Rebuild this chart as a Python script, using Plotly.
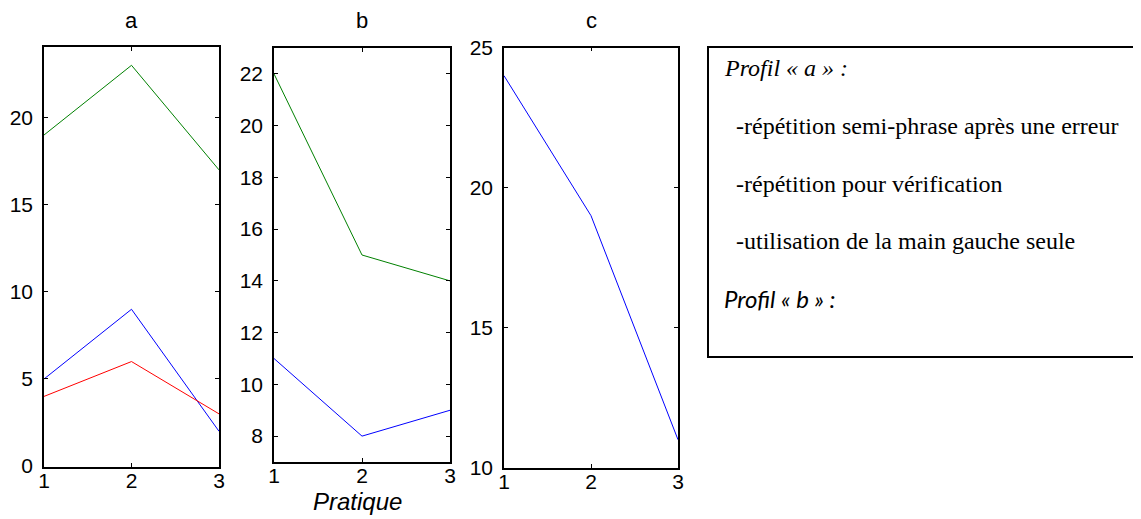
import plotly.graph_objects as go

# page body has an 8px margin: the figure starts at (8, 8) in the window
OFF = 8
W, H = 1141 - OFF, 519 - OFF

x_vals = [1, 2, 3]
a_green = [19, 23, 17]
a_blue = [5, 9, 2]
a_red = [4, 6, 3]
b_green = [22, 15, 14]
b_blue = [11, 8, 9]
c_blue = [24, 19, 11]

a_ticks = [0, 5, 10, 15, 20]
b_ticks = [8, 10, 12, 14, 16, 18, 20, 22]
c_ticks = [10, 15, 20, 25]
x_ticks = [1, 2, 3]

panel_titles = ["a", "b", "c"]
xlabel = "Pratique"
box_lines = [
    "Profil « a » :",
    "-répétition semi-phrase après une erreur",
    "-répétition pour vérification",
    "-utilisation de la main gauche seule",
    "Profil « b » :",
]

GREEN = "#008000"
BLUE = "#0000FF"
RED = "#FF0000"
FONT = "Liberation Sans"


def px(x):
    return (x - OFF) / W


def py(y):
    return 1 - (y - OFF) / H


fig = go.Figure()

fig.add_trace(go.Scatter(x=x_vals, y=a_green, mode="lines", line=dict(color=GREEN, width=1), xaxis="x", yaxis="y"))
fig.add_trace(go.Scatter(x=x_vals, y=a_blue, mode="lines", line=dict(color=BLUE, width=1), xaxis="x", yaxis="y"))
fig.add_trace(go.Scatter(x=x_vals, y=a_red, mode="lines", line=dict(color=RED, width=1), xaxis="x", yaxis="y"))
fig.add_trace(go.Scatter(x=x_vals, y=b_green, mode="lines", line=dict(color=GREEN, width=1), xaxis="x2", yaxis="y2"))
fig.add_trace(go.Scatter(x=x_vals, y=b_blue, mode="lines", line=dict(color=BLUE, width=1), xaxis="x2", yaxis="y2"))
fig.add_trace(go.Scatter(x=x_vals, y=c_blue, mode="lines", line=dict(color=BLUE, width=1), xaxis="x3", yaxis="y3"))

axis_common = dict(
    showline=True, linecolor="black", linewidth=1.5, mirror="allticks",
    ticks="inside", ticklen=4, tickcolor="black", tickwidth=1,
    showgrid=False, zeroline=False, automargin=False,
    tickfont=dict(family=FONT, size=21, color="black"),
)

panels = [
    dict(xd=(44, 219), yd=(47, 467), yr=(-0.05, 24.05), yt=a_ticks),
    dict(xd=(274, 450), yd=(48, 462), yr=(7, 23), yt=b_ticks),
    dict(xd=(504, 678), yd=(47.7, 467.7), yr=(10, 25), yt=c_ticks),
]

layout_axes = {}
for i, p in enumerate(panels):
    sfx = "" if i == 0 else str(i + 1)
    layout_axes["xaxis" + sfx] = dict(
        axis_common,
        domain=[px(p["xd"][0]), px(p["xd"][1])],
        range=[1, 3], tickvals=x_ticks,
        anchor="y" + sfx,
        ticklabelstandoff=-6,
    )
    layout_axes["yaxis" + sfx] = dict(
        axis_common,
        domain=[py(p["yd"][1]), py(p["yd"][0])],
        range=list(p["yr"]), tickvals=p["yt"],
        anchor="x" + sfx,
        ticklabelstandoff=5,
    )

annotations = []
for i, t in enumerate(panel_titles):
    xc = (panels[i]["xd"][0] + panels[i]["xd"][1]) / 2
    annotations.append(dict(
        text=t, x=px(xc), y=py(20), xref="paper", yref="paper",
        xanchor="center", yanchor="middle", showarrow=False,
        font=dict(family=FONT, size=22, color="black"),
    ))

annotations.append(dict(
    text="<i>" + xlabel + "</i>", x=px(357.5), y=py(501), xref="paper", yref="paper",
    xanchor="center", yanchor="middle", showarrow=False,
    font=dict(family=FONT, size=24, color="black"),
))

line_y = [68.5, 126, 183.5, 241, 298.5]
line_x = [722, 734, 734, 734, 722]
for i, t in enumerate(box_lines):
    if i == 0:
        txt, fam, sz = "<i>" + t + "</i>", "Liberation Serif", 24
    elif i == 4:
        txt, fam, sz = "<i>" + t + "</i>", "Lato", 24
    else:
        txt, fam, sz = t, "Liberation Serif", 24
    annotations.append(dict(
        text=txt, x=px(line_x[i]), y=py(line_y[i]), xref="paper", yref="paper",
        xanchor="left", yanchor="middle", showarrow=False,
        font=dict(family=fam, size=sz, color="black"),
    ))

shapes = [dict(
    type="rect", xref="paper", yref="paper",
    x0=px(708), x1=1.01, y0=py(357), y1=py(47),
    line=dict(color="black", width=2), fillcolor="rgba(0,0,0,0)",
)]

fig.update_layout(
    width=W, height=H,
    margin=dict(l=0, r=0, t=0, b=0, pad=0),
    paper_bgcolor="white", plot_bgcolor="white",
    showlegend=False,
    annotations=annotations,
    shapes=shapes,
    **layout_axes,
)

fig.write_html("out.html")
